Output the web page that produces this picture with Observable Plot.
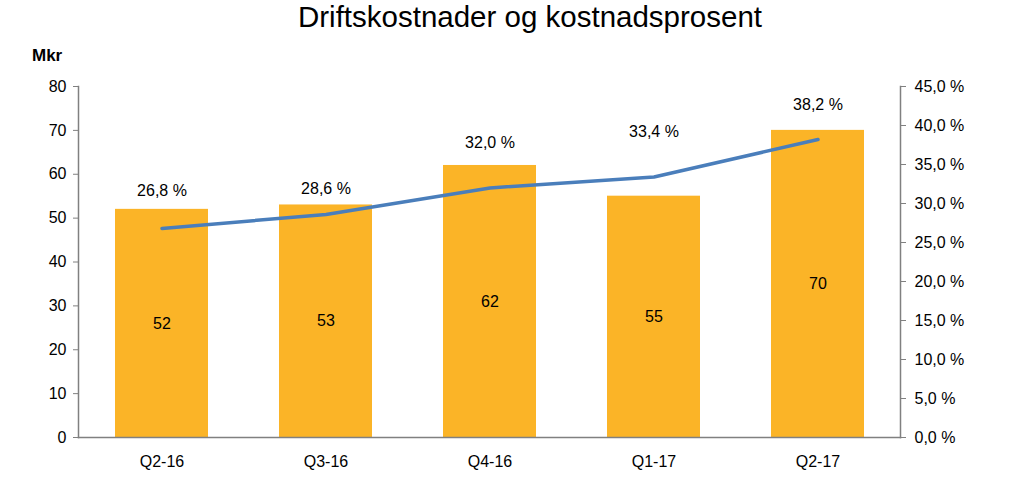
<!DOCTYPE html>
<html>
<head>
<meta charset="utf-8">
<script src="https://cdn.jsdelivr.net/npm/d3@7"></script>
<script src="https://cdn.jsdelivr.net/npm/@observablehq/plot@0.6"></script>
<style>
  html, body { margin: 0; padding: 0; background: #fff; }
  #wrap { position: relative; width: 1023px; height: 490px; font-family: "Liberation Sans", Arial, sans-serif; }
  #title { position: absolute; top: 0px; left: 0; width: 1060px; text-align: center; font-size: 29.5px; color: #000; }
  #unit { position: absolute; top: 46px; left: 32px; font-size: 17px; font-weight: bold; color: #000; }
</style>
</head>
<body>
<div id="wrap">
  <div id="title">Driftskostnader og kostnadsprosent</div>
  <div id="unit">Mkr</div>
</div>
<script>
const quarters = ["Q2-16", "Q3-16", "Q4-16", "Q1-17", "Q2-17"];
const costs = [52, 53, 62, 55, 70];
const costPct = [26.8, 28.6, 32.0, 33.4, 38.2];
const leftTicks = [0, 10, 20, 30, 40, 50, 60, 70, 80];
const rightTicks = [0, 5, 10, 15, 20, 25, 30, 35, 40, 45];

const Y_MAX = 80, P_MAX = 45;
const toY = p => p * Y_MAX / P_MAX;
const data = quarters.map((q, i) => ({q, cost: costs[i], pct: costPct[i]}));
const fmtPct = p => p.toFixed(1).replace(".", ",") + " %";
// label offsets (px) above the line points
const labelDy = [-38, -26, -45, -45, -35];

const W = 1023, H = 490;
const chart = Plot.plot({
  width: W,
  height: H,
  marginLeft: 78,
  marginRight: 123,
  marginTop: 86,
  marginBottom: 53,
  style: {fontFamily: "Liberation Sans, Arial, sans-serif", fontSize: "16px", color: "#000", background: "#fff"},
  x: {domain: quarters, paddingInner: 0.434, paddingOuter: 0.217, align: 0.5},
  y: {domain: [0, Y_MAX]},
  marks: [
    Plot.barY(data, {x: "q", y: "cost", fill: "#FBB427"}),
    Plot.text(data, {x: "q", y: d => d.cost / 2, text: d => String(d.cost), fontSize: 16, fill: "#000"}),
    Plot.lineY(data, {x: "q", y: d => toY(d.pct), stroke: "#4A7EBB", strokeWidth: 3.5, curve: "linear"}),
    ...data.map((d, i) => Plot.text([d], {x: "q", y: dd => toY(dd.pct), text: dd => fmtPct(dd.pct), dy: labelDy[i], fontSize: 16, fill: "#000"})),
    Plot.axisY({anchor: "left", ticks: leftTicks, tickSize: 5, tickPadding: 7, stroke: "#808080", fill: "#000", label: null, fontSize: 16}),
    Plot.axisY({anchor: "right", ticks: rightTicks.map(toY), tickFormat: v => fmtPct(Math.round(v * P_MAX / Y_MAX * 10) / 10), tickSize: 5, tickPadding: 9, stroke: "#808080", fill: "#000", label: null, fontSize: 16}),
    Plot.axisX({tickSize: 0, tickPadding: 18, label: null, fontSize: 16, fill: "#000"}),
    Plot.frame({anchor: "left", stroke: "#808080", strokeWidth: 1.5}),
    Plot.frame({anchor: "right", stroke: "#808080", strokeWidth: 1.5}),
    Plot.frame({anchor: "bottom", stroke: "#808080", strokeWidth: 1.5})
  ]
});
chart.style.position = "absolute";
chart.style.left = "0";
chart.style.top = "0";
document.getElementById("wrap").prepend(chart);
</script>
</body>
</html>
